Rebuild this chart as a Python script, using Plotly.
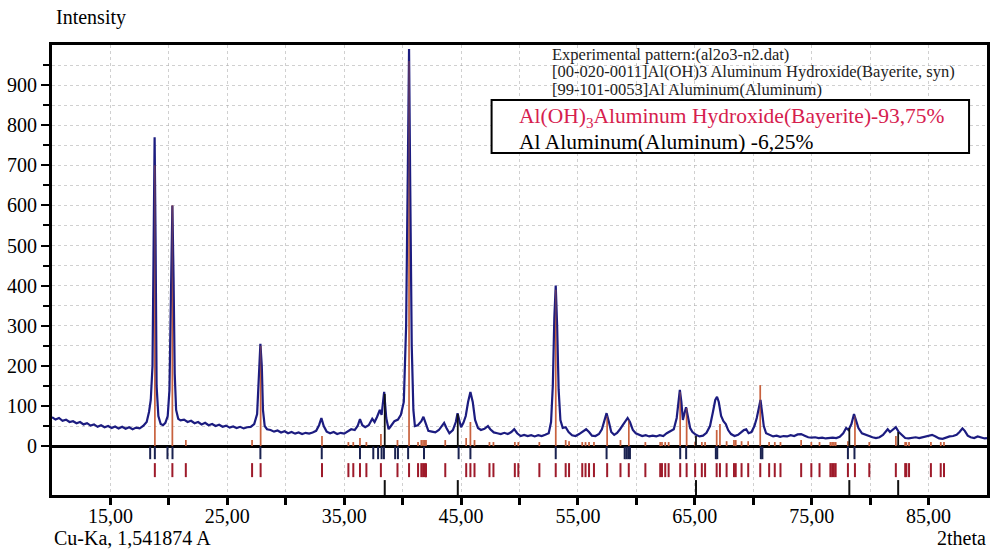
import plotly.graph_objects as go

# ---------------- data ----------------
two_theta = [10.0, 10.3, 10.6, 10.9, 11.2, 11.5, 11.8, 12.1, 12.4, 12.7, 13.0, 13.3, 13.6, 13.9, 14.2, 14.5,
             14.8, 15.1, 15.4, 15.7, 16.0, 16.3, 16.6, 16.9, 17.2, 17.5, 17.8, 18.1, 18.3, 18.45, 18.6, 18.7,
             18.78, 18.86, 18.95, 19.1, 19.3, 19.5, 19.7, 19.9, 20.05, 20.18, 20.3, 20.4, 20.5, 20.62, 20.8,
             21.0, 21.3, 21.6, 21.9, 22.2, 22.5, 22.8, 23.1, 23.4, 23.7, 24.0, 24.3, 24.6, 24.9, 25.2, 25.5,
             25.8, 26.1, 26.4, 26.7, 27.0, 27.3, 27.55, 27.7, 27.83, 27.95, 28.05, 28.2, 28.4, 28.7, 29.0,
             29.3, 29.6, 29.9, 30.2, 30.5, 30.8, 31.1, 31.4, 31.7, 32.0, 32.3, 32.6, 32.85, 33.05, 33.25, 33.5,
             33.8, 34.1, 34.4, 34.7, 35.0, 35.3, 35.6, 35.9, 36.15, 36.35, 36.55, 36.8, 37.1, 37.4, 37.6, 37.8,
             38.05, 38.2, 38.42, 38.6, 38.8, 39.0, 39.3, 39.6, 39.85, 40.1, 40.3, 40.45, 40.55, 40.65, 40.78,
             40.92, 41.05, 41.3, 41.6, 41.78, 41.95, 42.2, 42.5, 42.8, 43.1, 43.35, 43.55, 43.75, 44.0, 44.3,
             44.55, 44.7, 44.85, 45.0, 45.2, 45.4, 45.6, 45.8, 46.0, 46.2, 46.45, 46.7, 47.0, 47.3, 47.5, 47.8,
             48.1, 48.4, 48.7, 49.0, 49.3, 49.55, 49.8, 50.1, 50.4, 50.7, 51.0, 51.3, 51.6, 51.9, 52.2, 52.5,
             52.7, 52.85, 52.98, 53.1, 53.22, 53.35, 53.5, 53.7, 53.95, 54.2, 54.5, 54.8, 55.1, 55.4, 55.7,
             55.95, 56.2, 56.5, 56.8, 57.05, 57.25, 57.45, 57.65, 57.85, 58.1, 58.35, 58.6, 58.85, 59.05,
             59.25, 59.45, 59.7, 59.95, 60.2, 60.5, 60.8, 61.1, 61.4, 61.7, 62.0, 62.3, 62.6, 62.9, 63.2,
             63.45, 63.62, 63.72, 63.85, 63.98, 64.1, 64.25, 64.4, 64.6, 64.8, 65.1, 65.4, 65.7, 66.0, 66.3,
             66.55, 66.75, 66.9, 67.05, 67.25, 67.45, 67.65, 67.85, 68.1, 68.4, 68.7, 68.95, 69.2, 69.4, 69.6,
             69.85, 70.1, 70.3, 70.5, 70.62, 70.75, 70.9, 71.1, 71.4, 71.7, 72.0, 72.3, 72.6, 72.9, 73.2, 73.5,
             73.8, 74.1, 74.4, 74.7, 75.0, 75.3, 75.6, 75.9, 76.2, 76.5, 76.8, 77.1, 77.4, 77.7, 77.95, 78.15,
             78.4, 78.62, 78.8, 79.0, 79.3, 79.6, 79.9, 80.2, 80.5, 80.8, 81.1, 81.3, 81.5, 81.7, 81.95, 82.2,
             82.45, 82.7, 83.0, 83.3, 83.6, 83.9, 84.2, 84.5, 84.8, 85.1, 85.3, 85.6, 85.9, 86.2, 86.5, 86.8,
             87.1, 87.4, 87.65, 87.9, 88.1, 88.35, 88.6, 88.9, 89.2, 89.5, 89.8, 90.0]
intensity = [72, 66, 70, 63, 66, 60, 62, 57, 60, 54, 57, 51, 54, 48, 52, 47,
             50, 45, 49, 44, 48, 43, 47, 42, 46, 44, 50, 60, 85, 115, 200, 480,
             770, 520, 150, 75, 55, 52, 58, 75, 140, 380, 600, 420, 180, 90, 68,
             64, 66, 60, 63, 57, 60, 54, 58, 52, 55, 50, 53, 48, 51, 46, 49,
             45, 48, 44, 47, 48, 55, 80, 170, 255, 200, 90, 50, 42, 40, 36,
             39, 34, 37, 32, 35, 31, 34, 30, 33, 31, 34, 38, 52, 70, 50, 36,
             32, 35, 30, 33, 31, 36, 42, 40, 50, 67, 52, 47, 52, 68, 60, 72,
             90, 78, 135, 70, 42, 50, 62, 66, 78, 110, 300, 700, 990, 650, 250,
             90, 50, 52, 62, 73, 58, 38, 36, 34, 40, 50, 58, 45, 32, 40,
             60, 82, 62, 47, 58, 75, 110, 135, 110, 65, 45, 40, 43, 50, 42, 34,
             32, 30, 33, 30, 35, 42, 32, 25, 28, 25, 27, 24, 27, 25, 28, 32,
             60, 150, 320, 400, 300, 140, 65, 45, 47, 35, 27, 25, 30, 36, 42,
             35, 26, 25, 30, 42, 65, 82, 60, 35, 28, 33, 42, 52, 63,
             70, 60, 40, 32, 28, 25, 27, 24, 26, 24, 27, 25, 32, 38, 42,
             70, 120, 140, 110, 65, 80, 97, 75, 45, 35, 28, 24, 26, 33, 50,
             85, 115, 123, 110, 75, 62, 55, 40, 30, 25, 28, 35, 40, 42, 32,
             35, 50, 70, 95, 115, 85, 50, 32, 28, 24, 26, 23, 25, 24, 27, 25,
             29, 30, 26, 22, 21, 22, 20, 21, 19, 20, 21, 20, 23, 32, 45, 40,
             55, 80, 62, 45, 32, 28, 25, 22, 20, 22, 28, 35, 42, 35, 40, 47,
             35, 28, 20, 19, 20, 22, 20, 22, 25, 27, 28, 24, 19, 18, 21, 24,
             25, 28, 35, 44, 38, 26, 22, 20, 24, 21, 19, 20]

# Bayerite reference lines [00-020-0011]
bayerite_pos = [18.80, 20.30, 21.45, 27.12, 27.85, 33.10, 35.36, 35.78, 36.35, 36.90, 38.14, 39.56, 40.55,
                41.32, 41.60, 41.75, 41.90, 42.00, 43.65, 45.44, 45.80, 46.15, 47.43, 47.77, 49.60, 49.90,
                51.70, 53.10, 53.95, 54.24, 55.37, 55.65, 55.95, 56.37, 57.50, 58.64, 59.35, 60.77, 62.04,
                62.19, 62.47, 62.76, 63.75, 64.30, 65.03, 65.60, 65.88, 66.87, 67.15, 67.72, 68.35, 68.50,
                69.00, 69.57, 70.60, 71.36, 71.84, 72.33, 74.10, 74.97, 75.67, 76.60, 76.75, 76.90, 77.05,
                78.10, 78.70, 79.93, 82.20, 83.00, 83.10, 83.33, 85.20, 86.04, 86.32]
bayerite_int = [700, 600, 15, 15, 250, 25, 10, 10, 20, 10, 30, 15, 960,
                10, 15, 15, 15, 15, 15, 20, 60, 15, 10, 10, 10, 10,
                10, 390, 15, 12, 10, 10, 10, 10, 75, 15, 65, 10, 10,
                10, 10, 10, 135, 95, 10, 10, 10, 40, 55, 12, 15, 15,
                12, 12, 152, 10, 10, 10, 15, 10, 10, 10, 10, 10, 10,
                12, 75, 10, 25, 10, 10, 10, 10, 10, 10]

# Aluminum reference lines [99-101-0053]
al_pos = [38.47, 44.72, 65.10, 78.22, 82.40]
al_int = [130, 80, 25, 45, 35]

# Peak positions found in the experimental pattern
exp_peaks = [18.40, 18.80, 19.88, 20.31, 27.83, 33.08, 36.35, 37.49, 37.90, 38.20, 38.40, 39.36, 39.60,
             40.47, 41.83, 44.79, 45.80, 53.10, 57.45, 59.00, 59.15, 59.30, 59.45, 63.75, 64.26, 66.80,
             66.92, 70.65, 70.78, 78.10, 78.66]

x_ticks = [15, 25, 35, 45, 55, 65, 75, 85]
y_ticks = [0, 100, 200, 300, 400, 500, 600, 700, 800, 900]

# ---------------- styling ----------------
FONT = "Liberation Serif"
ROW_EXP, ROW_BAY, ROW_AL = -17, -60, -104


def sticks(pos, hts):
    xs, ys = [], []
    for p, h in zip(pos, hts):
        xs += [p, p, None]
        ys += [0, h, None]
    return xs, ys


fig = go.Figure()

bx, by = sticks(bayerite_pos, bayerite_int)
fig.add_trace(go.Scatter(x=bx, y=by, mode="lines", line=dict(color="#c9623f", width=1.6),
                         hoverinfo="skip"))

fig.add_trace(go.Scatter(x=two_theta, y=intensity, mode="lines",
                         line=dict(color="#1c1c80", width=2.2)))

fig.add_trace(go.Scatter(x=bx, y=by, mode="lines", line=dict(color="rgba(201,98,63,0.4)", width=1.6),
                         hoverinfo="skip"))

ax, ay = sticks(al_pos, al_int)
fig.add_trace(go.Scatter(x=ax, y=ay, mode="lines", line=dict(color="#111111", width=1.8),
                         hoverinfo="skip"))

fig.add_trace(go.Scatter(x=exp_peaks, y=[ROW_EXP] * len(exp_peaks), mode="markers",
                         marker=dict(symbol="line-ns", size=9, line=dict(width=2, color="#1a2250"))))
fig.add_trace(go.Scatter(x=bayerite_pos, y=[ROW_BAY] * len(bayerite_pos), mode="markers",
                         marker=dict(symbol="line-ns", size=10, line=dict(width=2, color="#9e1a2a"))))
fig.add_trace(go.Scatter(x=al_pos, y=[ROW_AL] * len(al_pos), mode="markers",
                         marker=dict(symbol="line-ns", size=11, line=dict(width=2, color="#111111"))))

grid = "rgba(170,170,170,0.55)"
fig.update_xaxes(range=[10, 90], tickmode="array", tickvals=x_ticks, tickformat=".2f",
                 ticks="outside", ticklen=7, tickwidth=3, tickcolor="black", ticklabelstandoff=-6,
                 showline=True, linecolor="black", linewidth=3, mirror=True,
                 showgrid=True, gridcolor=grid, griddash="dot", gridwidth=1,
                 minor=dict(tickvals=[20, 30, 40, 50, 60, 70, 80], ticks="outside", ticklen=7,
                            tickwidth=3, tickcolor="black", showgrid=True, gridcolor=grid,
                            griddash="dot"),
                 tickfont=dict(family=FONT, size=20, color="black"), zeroline=False)
fig.update_yaxes(range=[-122, 1000], tickmode="array", tickvals=y_ticks,
                 ticks="outside", ticklen=8, tickwidth=2, tickcolor="black",
                 showline=True, linecolor="black", linewidth=3, mirror=True,
                 showgrid=True, gridcolor=grid, griddash="dot", gridwidth=1,
                 minor=dict(tickvals=[50, 150, 250, 350, 450, 550, 650, 750, 850, 950],
                            ticks="outside", ticklen=6, tickwidth=2, tickcolor="black",
                            showgrid=True, gridcolor=grid, griddash="dot"),
                 zeroline=True, zerolinecolor="black", zerolinewidth=3,
                 tickfont=dict(family=FONT, size=20, color="black"))

W, H = 994, 551
L, R, T, B = 52, 4, 45, 56
pw, ph = W - L - R, H - T - B


def px(xp):
    return (xp - L) / pw


def py(yp):
    return (H - B - yp) / ph


fig.add_shape(type="rect", xref="paper", yref="paper", x0=px(493), x1=px(972), y0=py(153), y1=py(100),
              line=dict(color="black", width=2), fillcolor="white", layer="above")

anns = [
    dict(text="Intensity", x=px(54), y=py(18), xanchor="left", size=20, color="black"),
    dict(text="Cu-Ka, 1,541874 A", x=px(52), y=py(538), xanchor="left", size=20, color="black"),
    dict(text="2theta", x=px(991), y=py(538), xanchor="right", size=20, color="black"),
    dict(text="Experimental pattern:(al2o3-n2.dat)", x=px(552), y=py(54), xanchor="left", size=16.5,
         color="#222222"),
    dict(text="[00-020-0011]Al(OH)3 Aluminum Hydroxide(Bayerite, syn)", x=px(552), y=py(71.5),
         xanchor="left", size=16.5, color="#222222"),
    dict(text="[99-101-0053]Al Aluminum(Aluminum)", x=px(552), y=py(89.5), xanchor="left", size=16.5,
         color="#222222"),
    dict(text="Al(OH)<sub>3</sub>Aluminum Hydroxide(Bayerite)-93,75%", x=px(518), y=py(117),
         xanchor="left", size=21.5, color="#d6204e"),
    dict(text="Al Aluminum(Aluminum) -6,25%", x=px(518), y=py(141.5), xanchor="left", size=21.5,
         color="black"),
]
for a in anns:
    fig.add_annotation(text=a["text"], x=a["x"], y=a["y"], xref="paper", yref="paper",
                       xanchor=a["xanchor"], yanchor="middle", showarrow=False,
                       font=dict(family=FONT, size=a["size"], color=a["color"]))

fig.update_layout(width=W, height=H, margin=dict(l=L, r=R, t=T, b=B),
                  paper_bgcolor="white", plot_bgcolor="white", showlegend=False,
                  separators=", ", font=dict(family=FONT, color="black"))

fig.write_html("out.html")
